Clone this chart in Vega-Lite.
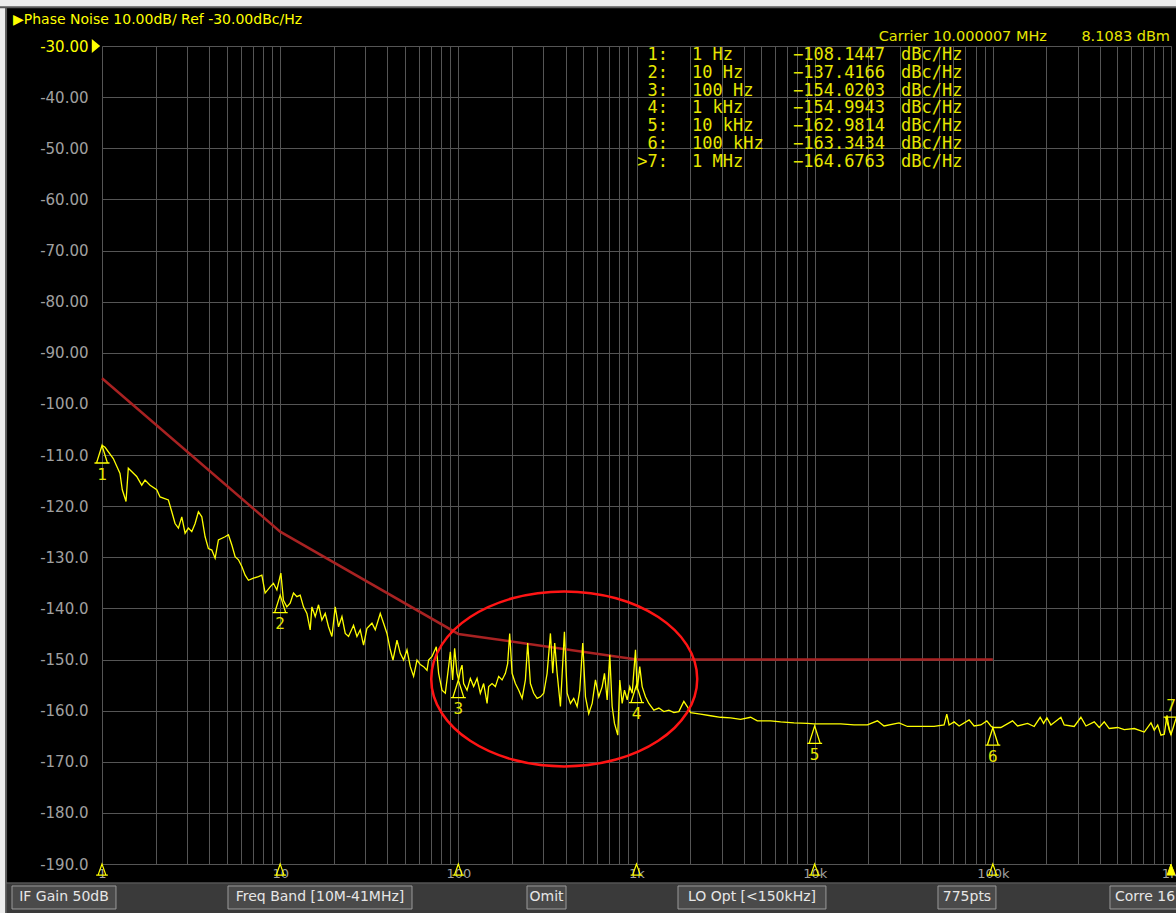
{
  "$schema": "https://vega.github.io/schema/vega-lite/v6.json",
  "width": 1069,
  "height": 818,
  "autosize": {"type": "none"},
  "padding": {"left": 102, "top": 46, "right": 5, "bottom": 49},
  "background": "#000000",
  "config": {"view": {"stroke": null}},
  "datasets": {
    "trace": [
      {"f":1.0,"dB":-108.1},{"f":1.04,"dB":-108.5},{"f":1.157,"dB":-110.7},{"f":1.262,"dB":-113.6},{"f":1.3,"dB":-116.8},{"f":1.364,"dB":-119.1},{"f":1.405,"dB":-112.6},{"f":1.566,"dB":-114.2},{"f":1.671,"dB":-115.9},{"f":1.744,"dB":-114.9},{"f":1.861,"dB":-115.9},{"f":2.029,"dB":-116.8},{"f":2.118,"dB":-118.2},{"f":2.358,"dB":-118.8},{"f":2.464,"dB":-121.1},{"f":2.571,"dB":-123.4},{"f":2.684,"dB":-124.3},{"f":2.804,"dB":-122.1},{"f":2.927,"dB":-125.3},{"f":3.053,"dB":-124.3},{"f":3.191,"dB":-125.0},{"f":3.331,"dB":-123.4},{"f":3.476,"dB":-121.1},{"f":3.632,"dB":-122.1},{"f":3.791,"dB":-126.0},{"f":3.956,"dB":-128.3},{"f":4.134,"dB":-128.6},{"f":4.314,"dB":-130.2},{"f":4.502,"dB":-126.6},{"f":4.909,"dB":-126.0},{"f":5.124,"dB":-125.6},{"f":5.354,"dB":-127.6},{"f":5.587,"dB":-129.9},{"f":5.831,"dB":-130.5},{"f":6.093,"dB":-131.8},{"f":6.36,"dB":-133.5},{"f":6.637,"dB":-134.5},{"f":7.079,"dB":-134.1},{"f":7.552,"dB":-133.8},{"f":7.892,"dB":-133.5},{"f":8.235,"dB":-137.0},{"f":8.785,"dB":-135.8},{"f":9.17,"dB":-135.1},{"f":9.583,"dB":-136.4},{"f":10.09,"dB":-133.1},{"f":10.43,"dB":-138.4},{"f":10.9,"dB":-139.7},{"f":11.38,"dB":-139.0},{"f":11.88,"dB":-137.0},{"f":12.41,"dB":-137.7},{"f":12.95,"dB":-137.4},{"f":13.52,"dB":-139.7},{"f":14.13,"dB":-141.0},{"f":14.74,"dB":-144.2},{"f":15.07,"dB":-139.7},{"f":15.73,"dB":-141.6},{"f":16.42,"dB":-139.3},{"f":17.15,"dB":-142.3},{"f":17.9,"dB":-141.0},{"f":18.68,"dB":-143.6},{"f":19.52,"dB":-145.5},{"f":20.37,"dB":-139.7},{"f":21.26,"dB":-143.6},{"f":22.22,"dB":-141.6},{"f":23.19,"dB":-144.9},{"f":24.2,"dB":-145.5},{"f":25.81,"dB":-143.3},{"f":26.97,"dB":-145.5},{"f":28.14,"dB":-144.2},{"f":29.38,"dB":-147.2},{"f":30.7,"dB":-143.9},{"f":32.75,"dB":-142.9},{"f":34.18,"dB":-144.2},{"f":36.46,"dB":-141.0},{"f":38.05,"dB":-142.9},{"f":39.76,"dB":-144.9},{"f":41.5,"dB":-148.1},{"f":42.97,"dB":-150.1},{"f":45.25,"dB":-146.2},{"f":47.23,"dB":-148.8},{"f":49.29,"dB":-150.1},{"f":51.5,"dB":-148.1},{"f":53.75,"dB":-151.4},{"f":56.1,"dB":-153.3},{"f":58.61,"dB":-150.1},{"f":61.16,"dB":-151.0},{"f":63.84,"dB":-151.4},{"f":66.71,"dB":-152.1},{"f":68.1,"dB":-150.1},{"f":71.16,"dB":-149.4},{"f":75.23,"dB":-147.5},{"f":77.51,"dB":-152.7},{"f":80.99,"dB":-156.0},{"f":84.53,"dB":-156.6},{"f":88.22,"dB":-151.4},{"f":90.19,"dB":-148.5},{"f":92.9,"dB":-154.0},{"f":95.33,"dB":-147.8},{"f":98.33,"dB":-152.7},{"f":100.4,"dB":-154.0},{"f":102.6,"dB":-152.1},{"f":104.9,"dB":-151.1},{"f":107.1,"dB":-154.7},{"f":111.9,"dB":-156.0},{"f":116.8,"dB":-153.7},{"f":121.9,"dB":-155.3},{"f":127.4,"dB":-153.7},{"f":132.9,"dB":-156.6},{"f":138.7,"dB":-154.7},{"f":145.0,"dB":-158.6},{"f":148.0,"dB":-155.3},{"f":154.6,"dB":-154.7},{"f":161.4,"dB":-155.3},{"f":168.4,"dB":-153.3},{"f":176.0,"dB":-154.0},{"f":183.7,"dB":-152.7},{"f":189.2,"dB":-150.8},{"f":194.2,"dB":-144.9},{"f":200.3,"dB":-152.7},{"f":209.0,"dB":-154.7},{"f":218.3,"dB":-156.0},{"f":228.1,"dB":-157.6},{"f":237.9,"dB":-154.0},{"f":245.1,"dB":-146.8},{"f":253.8,"dB":-154.7},{"f":264.9,"dB":-156.6},{"f":276.8,"dB":-157.6},{"f":288.9,"dB":-157.3},{"f":301.5,"dB":-156.6},{"f":315.0,"dB":-152.7},{"f":328.8,"dB":-144.9},{"f":338.7,"dB":-152.7},{"f":347.5,"dB":-146.8},{"f":358.5,"dB":-152.7},{"f":374.1,"dB":-159.2},{"f":393.9,"dB":-144.6},{"f":408.0,"dB":-156.6},{"f":425.8,"dB":-158.6},{"f":444.4,"dB":-157.6},{"f":464.4,"dB":-159.2},{"f":480.3,"dB":-156.0},{"f":499.3,"dB":-146.8},{"f":517.1,"dB":-157.3},{"f":539.5,"dB":-160.6},{"f":563.8,"dB":-158.6},{"f":588.4,"dB":-154.0},{"f":614.1,"dB":-157.3},{"f":641.7,"dB":-155.3},{"f":661.1,"dB":-152.7},{"f":684.6,"dB":-157.9},{"f":707.9,"dB":-149.1},{"f":730.2,"dB":-159.2},{"f":752.3,"dB":-162.5},{"f":785.1,"dB":-164.8},{"f":805.7,"dB":-154.0},{"f":831.1,"dB":-158.6},{"f":856.2,"dB":-156.0},{"f":886.7,"dB":-157.9},{"f":917.1,"dB":-155.3},{"f":945.9,"dB":-156.6},{"f":987.2,"dB":-148.1},{"f":1009,"dB":-156.0},{"f":1043,"dB":-151.4},{"f":1076,"dB":-155.3},{"f":1123,"dB":-157.3},{"f":1173,"dB":-158.6},{"f":1251,"dB":-159.9},{"f":1335,"dB":-159.5},{"f":1424,"dB":-160.2},{"f":1519,"dB":-159.9},{"f":1621,"dB":-160.4},{"f":1728,"dB":-160.2},{"f":1844,"dB":-158.2},{"f":1927,"dB":-159.2},{"f":2012,"dB":-160.4},{"f":2288,"dB":-160.7},{"f":2604,"dB":-161.0},{"f":2965,"dB":-161.3},{"f":3375,"dB":-161.4},{"f":3840,"dB":-161.7},{"f":4370,"dB":-161.3},{"f":4766,"dB":-162.0},{"f":5660,"dB":-162.0},{"f":6442,"dB":-162.2},{"f":7650,"dB":-162.4},{"f":9100,"dB":-162.5},{"f":9911,"dB":-162.6},{"f":11780,"dB":-162.6},{"f":14000,"dB":-162.6},{"f":16630,"dB":-162.8},{"f":19780,"dB":-162.8},{"f":22500,"dB":-162.0},{"f":24510,"dB":-163.0},{"f":29760,"dB":-162.4},{"f":33180,"dB":-163.1},{"f":39400,"dB":-163.1},{"f":46800,"dB":-163.1},{"f":53260,"dB":-162.8},{"f":55150,"dB":-160.7},{"f":56810,"dB":-162.8},{"f":60620,"dB":-162.2},{"f":64680,"dB":-163.0},{"f":73600,"dB":-161.8},{"f":78520,"dB":-163.0},{"f":85620,"dB":-162.8},{"f":92540,"dB":-162.0},{"f":97450,"dB":-163.0},{"f":100000,"dB":-163.3},{"f":110900,"dB":-163.3},{"f":129000,"dB":-162.0},{"f":137700,"dB":-163.0},{"f":156700,"dB":-162.5},{"f":170600,"dB":-163.1},{"f":184400,"dB":-161.3},{"f":192700,"dB":-162.5},{"f":201100,"dB":-161.4},{"f":211800,"dB":-162.8},{"f":241000,"dB":-161.3},{"f":251500,"dB":-162.8},{"f":286200,"dB":-163.1},{"f":312100,"dB":-161.3},{"f":333100,"dB":-163.0},{"f":370800,"dB":-162.2},{"f":395600,"dB":-163.3},{"f":421900,"dB":-162.2},{"f":450200,"dB":-163.5},{"f":501900,"dB":-163.3},{"f":546600,"dB":-163.7},{"f":622100,"dB":-163.5},{"f":707900,"dB":-164.2},{"f":772000,"dB":-162.4},{"f":805700,"dB":-163.8},{"f":842000,"dB":-162.8},{"f":878500,"dB":-164.8},{"f":917100,"dB":-164.6},{"f":949500,"dB":-160.9},{"f":978100,"dB":-163.8},{"f":1000000,"dB":-164.7}
    ],
    "limit": [
      {"f":1,"dB":-95},{"f":10,"dB":-125},{"f":100,"dB":-145},{"f":1000,"dB":-150},{"f":100000,"dB":-150}
    ],
    "markers": [
      {"n":1,"idx":"1:","freq":"1 Hz","f":1,"dB":-108.1447},
      {"n":2,"idx":"2:","freq":"10 Hz","f":10,"dB":-137.4166},
      {"n":3,"idx":"3:","freq":"100 Hz","f":100,"dB":-154.0203},
      {"n":4,"idx":"4:","freq":"1 kHz","f":1000,"dB":-154.9943},
      {"n":5,"idx":"5:","freq":"10 kHz","f":10000,"dB":-162.9814},
      {"n":6,"idx":"6:","freq":"100 kHz","f":100000,"dB":-163.3434},
      {"n":7,"idx":">7:","freq":"1 MHz","f":1000000,"dB":-164.6763}
    ],
    "highlight": [{"f":393,"dB":-153.8}]
  },
  "layer": [
    {
      "data": {"name": "trace"},
      "mark": {"type": "line", "color": "#ffff00", "strokeWidth": 1.3, "opacity": 0},
      "encoding": {
        "x": {
          "field": "f", "type": "quantitative",
          "scale": {"type": "log", "domain": [1, 1000000], "nice": false},
          "axis": {
            "title": null,
            "values": [1,2,3,4,5,6,7,8,9,10,20,30,40,50,60,70,80,90,100,200,300,400,500,600,700,800,900,1000,2000,3000,4000,5000,6000,7000,8000,9000,10000,20000,30000,40000,50000,60000,70000,80000,90000,100000,200000,300000,400000,500000,600000,700000,800000,900000,1000000],
            "labelExpr": "indexof([1,10,100,1000,10000,100000,1000000], datum.value) >= 0 ? format(datum.value, '~s') : ''",
            "grid": true, "gridColor": "#555555", "gridWidth": 1,
            "ticks": false, "domain": false,
            "labelColor": "#a0a0a0", "labelFont": "DejaVu Sans", "labelFontSize": 13,
            "labelPadding": 3, "labelFlush": false, "labelOverlap": false, "labelBound": false
          }
        },
        "y": {
          "field": "dB", "type": "quantitative",
          "scale": {"domain": [-190, -30], "nice": false, "zero": false},
          "axis": {
            "title": null,
            "values": [-30,-40,-50,-60,-70,-80,-90,-100,-110,-120,-130,-140,-150,-160,-170,-180,-190],
            "labelExpr": "datum.value <= -100 ? datum.value + '.0' : datum.value + '.00'",
            "grid": true, "gridColor": "#555555", "gridWidth": 1,
            "ticks": false, "domain": false,
            "labelColor": {"condition": {"test": "datum.value == -30", "value": "#ffff00"}, "value": "#a0a0a0"},
            "labelFont": "DejaVu Sans", "labelFontSize": 15, "labelPadding": 14,
            "labelOverlap": false, "labelBound": false
          }
        }
      }
    },
    {
      "data": {"values": [{}]},
      "mark": {"type": "rect", "fill": "#ececec", "stroke": "#5a5a5a", "strokeWidth": 2},
      "encoding": {
        "x": {"datum": 0.1}, "x2": {"datum": 0.2894},
        "y": {"datum": -10}, "y2": {"datum": -215}
      }
    },
    {
      "data": {"values": [{}]},
      "mark": {"type": "rect", "fill": "#ececec", "stroke": "#5a5a5a", "strokeWidth": 2},
      "encoding": {
        "x": {"datum": 0.1}, "x2": {"datum": 3000000},
        "y": {"datum": -10}, "y2": {"datum": -22.4}
      }
    },
    {
      "data": {"values": [{}]},
      "mark": {"type": "rect", "fill": "#3a3a3a", "stroke": "#6a6a6a", "strokeWidth": 1},
      "encoding": {
        "x": {"datum": 0.2894}, "x2": {"datum": 3000000},
        "y": {"datum": -193.7}, "y2": {"datum": -206}
      }
    },
    {
      "data": {"values": [{"label": "IF Gain 50dB"}]},
      "layer": [
        {"mark": {"type": "rect", "fill": "#4a4a4a", "stroke": "#9a9a9a", "strokeWidth": 1},
         "encoding": {"x": {"datum": 0.3125}, "x2": {"datum": 1.198}, "y": {"datum": -194.3}, "y2": {"datum": -198.8}}},
        {"mark": {"type": "text", "color": "#e6e6e6", "font": "DejaVu Sans", "fontSize": 14, "align": "center", "baseline": "middle"},
         "encoding": {"x": {"datum": 0.6118}, "y": {"datum": -196.55}, "text": {"field": "label"}}}
      ]
    },
    {
      "data": {"values": [{"label": "Freq Band [10M-41MHz]"}]},
      "layer": [
        {"mark": {"type": "rect", "fill": "#4a4a4a", "stroke": "#9a9a9a", "strokeWidth": 1},
         "encoding": {"x": {"datum": 5.095}, "x2": {"datum": 54.95}, "y": {"datum": -194.3}, "y2": {"datum": -198.8}}},
        {"mark": {"type": "text", "color": "#e6e6e6", "font": "DejaVu Sans", "fontSize": 14, "align": "center", "baseline": "middle"},
         "encoding": {"x": {"datum": 16.73}, "y": {"datum": -196.55}, "text": {"field": "label"}}}
      ]
    },
    {
      "data": {"values": [{"label": "Omit"}]},
      "layer": [
        {"mark": {"type": "rect", "fill": "#4a4a4a", "stroke": "#9a9a9a", "strokeWidth": 1},
         "encoding": {"x": {"datum": 242.9}, "x2": {"datum": 402.2}, "y": {"datum": -194.3}, "y2": {"datum": -198.8}}},
        {"mark": {"type": "text", "color": "#e6e6e6", "font": "DejaVu Sans", "fontSize": 14, "align": "center", "baseline": "middle"},
         "encoding": {"x": {"datum": 312.5}, "y": {"datum": -196.55}, "text": {"field": "label"}}}
      ]
    },
    {
      "data": {"values": [{"label": "LO Opt [<150kHz]"}]},
      "layer": [
        {"mark": {"type": "rect", "fill": "#4a4a4a", "stroke": "#9a9a9a", "strokeWidth": 1},
         "encoding": {"x": {"datum": 1710}, "x2": {"datum": 11570}, "y": {"datum": -194.3}, "y2": {"datum": -198.8}}},
        {"mark": {"type": "text", "color": "#e6e6e6", "font": "DejaVu Sans", "fontSize": 14, "align": "center", "baseline": "middle"},
         "encoding": {"x": {"datum": 4448}, "y": {"datum": -196.55}, "text": {"field": "label"}}}
      ]
    },
    {
      "data": {"values": [{"label": "775pts"}]},
      "layer": [
        {"mark": {"type": "rect", "fill": "#4a4a4a", "stroke": "#9a9a9a", "strokeWidth": 1},
         "encoding": {"x": {"datum": 49220}, "x2": {"datum": 104100}, "y": {"datum": -194.3}, "y2": {"datum": -198.8}}},
        {"mark": {"type": "text", "color": "#e6e6e6", "font": "DejaVu Sans", "fontSize": 14, "align": "center", "baseline": "middle"},
         "encoding": {"x": {"datum": 71590}, "y": {"datum": -196.55}, "text": {"field": "label"}}}
      ]
    },
    {
      "data": {"values": [{"label": "Corre 16"}]},
      "layer": [
        {"mark": {"type": "rect", "fill": "#4a4a4a", "stroke": "#9a9a9a", "strokeWidth": 1},
         "encoding": {"x": {"datum": 454500}, "x2": {"datum": 3000000}, "y": {"datum": -194.3}, "y2": {"datum": -198.8}}},
        {"mark": {"type": "text", "color": "#e6e6e6", "font": "DejaVu Sans", "fontSize": 14, "align": "left", "baseline": "middle"},
         "encoding": {"x": {"datum": 484900}, "y": {"datum": -196.55}, "text": {"field": "label"}}}
      ]
    },
    {
      "data": {"name": "limit"},
      "mark": {"type": "line", "color": "#a82222", "strokeWidth": 2.5},
      "encoding": {
        "x": {"field": "f", "type": "quantitative"},
        "y": {"field": "dB", "type": "quantitative"}
      }
    },
    {
      "data": {"name": "trace"},
      "mark": {"type": "line", "color": "#ffff00", "strokeWidth": 1.3},
      "encoding": {
        "x": {"field": "f", "type": "quantitative"},
        "y": {"field": "dB", "type": "quantitative"}
      }
    },
    {
      "data": {"name": "highlight"},
      "mark": {"type": "point", "shape": "M-1.33,0C-1.33,-0.4833,-0.7346,-0.875,0,-0.875C0.7346,-0.875,1.33,-0.4833,1.33,0C1.33,0.4833,0.7346,0.875,0,0.875C-0.7346,0.875,-1.33,0.4833,-1.33,0Z", "size": 40000, "filled": false, "stroke": "#ff1414", "strokeWidth": 2.5, "opacity": 1},
      "encoding": {
        "x": {"field": "f", "type": "quantitative"},
        "y": {"field": "dB", "type": "quantitative"}
      }
    },
    {
      "data": {"name": "markers"},
      "transform": [{"filter": "datum.n < 7"}],
      "layer": [
        {
          "mark": {"type": "point", "shape": "M0,0L-0.55,1.75L0.55,1.75ZM-0.75,1.75L0.75,1.75", "size": 400, "filled": false, "stroke": "#ffff00", "strokeWidth": 1.3, "opacity": 1},
          "encoding": {
            "x": {"field": "f", "type": "quantitative"},
            "y": {"field": "dB", "type": "quantitative"}
          }
        },
        {
          "mark": {"type": "text", "color": "#e6e600", "font": "DejaVu Sans Mono", "fontSize": 16, "align": "center", "baseline": "middle", "dy": 29},
          "encoding": {
            "x": {"field": "f", "type": "quantitative"},
            "y": {"field": "dB", "type": "quantitative"},
            "text": {"field": "n"}
          }
        }
      ]
    },
    {
      "data": {"name": "markers"},
      "transform": [{"filter": "datum.n == 7"}],
      "layer": [
        {
          "mark": {"type": "point", "shape": "M0,0L-0.55,-1.75L0.55,-1.75ZM-0.75,-1.75L0.75,-1.75", "size": 400, "filled": false, "stroke": "#ffff00", "strokeWidth": 1.3, "opacity": 1},
          "encoding": {
            "x": {"field": "f", "type": "quantitative"},
            "y": {"field": "dB", "type": "quantitative"}
          }
        },
        {
          "mark": {"type": "text", "color": "#e6e600", "font": "DejaVu Sans Mono", "fontSize": 16, "align": "center", "baseline": "middle", "dy": -29},
          "encoding": {
            "x": {"field": "f", "type": "quantitative"},
            "y": {"field": "dB", "type": "quantitative"},
            "text": {"field": "n"}
          }
        }
      ]
    },
    {
      "data": {"name": "markers"},
      "mark": {"type": "point", "shape": "M0,0L-0.6,1.7L0.6,1.7ZM-0.9,1.7L0.9,1.7", "size": 169, "filled": false, "stroke": "#ffff00", "strokeWidth": 1.2, "opacity": 1},
      "transform": [{"filter": "datum.n < 7"}],
      "encoding": {
        "x": {"field": "f", "type": "quantitative"},
        "y": {"datum": -190}
      }
    },
    {
      "data": {"name": "markers"},
      "mark": {"type": "point", "shape": "M0,0L-0.6,1.7L0.6,1.7Z", "size": 169, "filled": true, "fill": "#ffff00", "stroke": "#ffff00", "strokeWidth": 1, "opacity": 1},
      "transform": [{"filter": "datum.n == 7"}],
      "encoding": {
        "x": {"field": "f", "type": "quantitative"},
        "y": {"datum": -190}
      }
    },
    {
      "data": {"values": [{}]},
      "mark": {"type": "point", "shape": "M-0.6,-1L0.6,0L-0.6,1Z", "size": 196, "filled": true, "fill": "#ffff00", "opacity": 1},
      "encoding": {
        "x": {"datum": 0.9255},
        "y": {"datum": -30}
      }
    },
    {
      "data": {"values": [{"t": "▶Phase Noise 10.00dB/ Ref -30.00dBc/Hz"}]},
      "mark": {"type": "text", "color": "#ffff00", "font": "DejaVu Sans", "fontSize": 14, "align": "left", "baseline": "middle"},
      "encoding": {
        "x": {"datum": 0.3166},
        "y": {"datum": -24.91},
        "text": {"field": "t"}
      }
    },
    {
      "data": {"values": [{"t": "Carrier 10.000007 MHz"}]},
      "mark": {"type": "text", "color": "#e6e600", "font": "DejaVu Sans", "fontSize": 14.5, "align": "right", "baseline": "middle"},
      "encoding": {
        "x": {"datum": 201300},
        "y": {"datum": -28.24},
        "text": {"field": "t"}
      }
    },
    {
      "data": {"values": [{"t": "8.1083 dBm"}]},
      "mark": {"type": "text", "color": "#e6e600", "font": "DejaVu Sans", "fontSize": 14.5, "align": "right", "baseline": "middle", "dx": -1},
      "encoding": {
        "x": {"datum": 1000000},
        "y": {"datum": -28.24},
        "text": {"field": "t"}
      }
    },
    {
      "data": {"name": "markers"},
      "layer": [
        {
          "mark": {"type": "text", "color": "#e6e600", "font": "DejaVu Sans Mono", "fontSize": 17, "align": "right", "baseline": "middle", "dy": {"expr": "(datum.n - 1) * 17.8"}},
          "encoding": {"x": {"datum": 1502}, "y": {"datum": -31.76}, "text": {"field": "idx"}}
        },
        {
          "mark": {"type": "text", "color": "#e6e600", "font": "DejaVu Sans Mono", "fontSize": 17, "align": "left", "baseline": "middle", "dy": {"expr": "(datum.n - 1) * 17.8"}},
          "encoding": {"x": {"datum": 2048}, "y": {"datum": -31.76}, "text": {"field": "freq"}}
        },
        {
          "mark": {"type": "text", "color": "#e6e600", "font": "DejaVu Sans Mono", "fontSize": 17, "align": "left", "baseline": "middle", "dy": {"expr": "(datum.n - 1) * 17.8"}},
          "encoding": {"x": {"datum": 7554}, "y": {"datum": -31.76}, "text": {"field": "dB", "type": "quantitative", "format": ".4f"}}
        },
        {
          "mark": {"type": "text", "color": "#e6e600", "font": "DejaVu Sans Mono", "fontSize": 17, "align": "left", "baseline": "middle", "text": "dBc/Hz", "dy": {"expr": "(datum.n - 1) * 17.8"}},
          "encoding": {"x": {"datum": 30520}, "y": {"datum": -31.76}}
        }
      ]
    }
  ]
}
